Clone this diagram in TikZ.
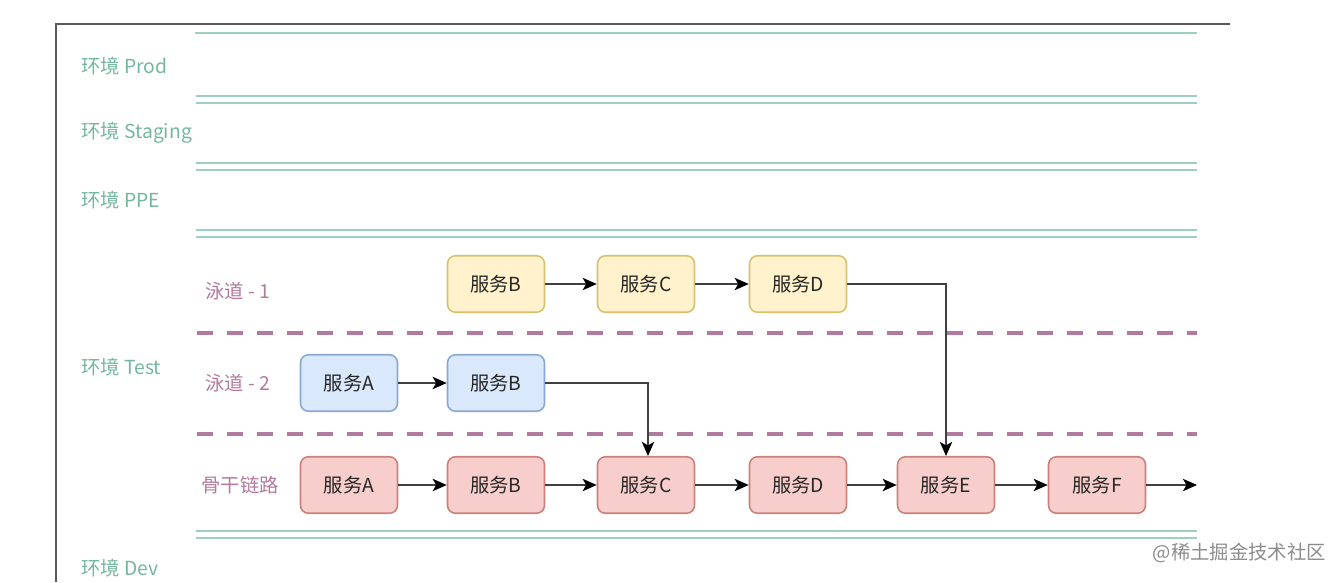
\documentclass[tikz,border=0pt]{standalone}
\usepackage{fontspec}
\setmainfont{Noto Sans CJK SC}
\usetikzlibrary{positioning,arrows.meta}

\definecolor{envline}{HTML}{9CD0BC}
\definecolor{envtext}{HTML}{72B89C}
\definecolor{lanecol}{HTML}{B27A9E}
\definecolor{yelfill}{HTML}{FFF2CC}
\definecolor{yeldraw}{HTML}{D9C170}
\definecolor{bluefill}{HTML}{DAE8FC}
\definecolor{bluedraw}{HTML}{8AA8D4}
\definecolor{redfill}{HTML}{F8CECC}
\definecolor{reddraw}{HTML}{CC807A}

\tikzset{
    svc/.style={draw, line width=0.9pt, rounded corners=4.5pt, minimum width=1.94cm,
        minimum height=1.13cm, inner sep=0pt, text=black!85, font=\fontsize{11}{13}\selectfont},
    svcyel/.style={svc, fill=yelfill, draw=yeldraw},
    svcblue/.style={svc, fill=bluefill, draw=bluedraw},
    svcred/.style={svc, fill=redfill, draw=reddraw},
    envlabel/.style={anchor=west, text=envtext, inner sep=0pt, font=\fontsize{11}{13}\selectfont},
    lanelabel/.style={anchor=west, text=lanecol, inner sep=0pt, font=\fontsize{11}{13}\selectfont},
    flow/.style={draw=black!75, line width=1.1pt, -{Stealth[length=8pt,width=7pt,inset=2pt,color=black]}},
}

\begin{document}
\begin{tikzpicture}[x=0.02cm, y=-0.02cm]
    \useasboundingbox (0,0) rectangle (1344,582);

    % frame of the screenshot
    \draw[line width=1.3pt, black!65] (56,582) -- (56,24) -- (1230,24);

    % environment separators
    \draw[envline, line width=1.3pt] (195,33) -- (1197,33);
    \foreach \y in {96,163,230,531}
    {
        \draw[envline, line width=1.3pt] (196,\y) -- (1197,\y);
        \draw[envline, line width=1.3pt] (196,\y+7) -- (1197,\y+7);
    }

    % lane separators
    \foreach \y in {333,434}
        \draw[lanecol, line width=2.2pt, dash pattern=on 0.32cm off 0.28cm] (197,\y) -- (1197,\y);

    % environment labels
    \node[envlabel] (prod) at (81,66) {环境 Prod};
    \node[envlabel] (staging) at (81,133) {环境 Staging};
    \node[envlabel] (ppe) at (81,200) {环境 PPE};
    \node[envlabel] (test) at (81,367) {环境 Test};
    \node[envlabel] (dev) at (81,568) {环境 Dev};

    % lane labels
    \node[lanelabel] (lane1) at (205,291) {泳道 - 1};
    \node[lanelabel] (lane2) at (205,383) {泳道 - 2};
    \node[lanelabel] (trunk) at (201,485) {骨干链路};

    % lane 1
    \node[svcyel] (yB) at (496,284) {服务B};
    \node[svcyel] (yC) at (646,284) {服务C};
    \node[svcyel] (yD) at (798,284) {服务D};

    % lane 2
    \node[svcblue] (bA) at (349,383) {服务A};
    \node[svcblue] (bB) at (496,383) {服务B};

    % trunk
    \node[svcred] (rA) at (349,485) {服务A};
    \node[svcred] (rB) at (496,485) {服务B};
    \node[svcred] (rC) at (646,485) {服务C};
    \node[svcred] (rD) at (798,485) {服务D};
    \node[svcred] (rE) at (946,485) {服务E};
    \node[svcred] (rF) at (1097,485) {服务F};
    \coordinate (out) at (1197,485);

    \draw[flow] (yB) -- (yC);
    \draw[flow] (yC) -- (yD);
    \draw[flow] (yD.east) -| (rE.north);
    \draw[flow] (bA) -- (bB);
    \draw[flow] (bB.east) -| ([xshift=0.04cm]rC.north);
    \draw[flow] (rA) -- (rB);
    \draw[flow] (rB) -- (rC);
    \draw[flow] (rC) -- (rD);
    \draw[flow] (rD) -- (rE);
    \draw[flow] (rE) -- (rF);
    \draw[flow] (rF) -- (out);

    % watermark
    \node[anchor=east, text=black!45, inner sep=0pt, font=\fontsize{11}{13}\selectfont] (mark) at (1326,553) {@稀土掘金技术社区};
\end{tikzpicture}
\end{document}
